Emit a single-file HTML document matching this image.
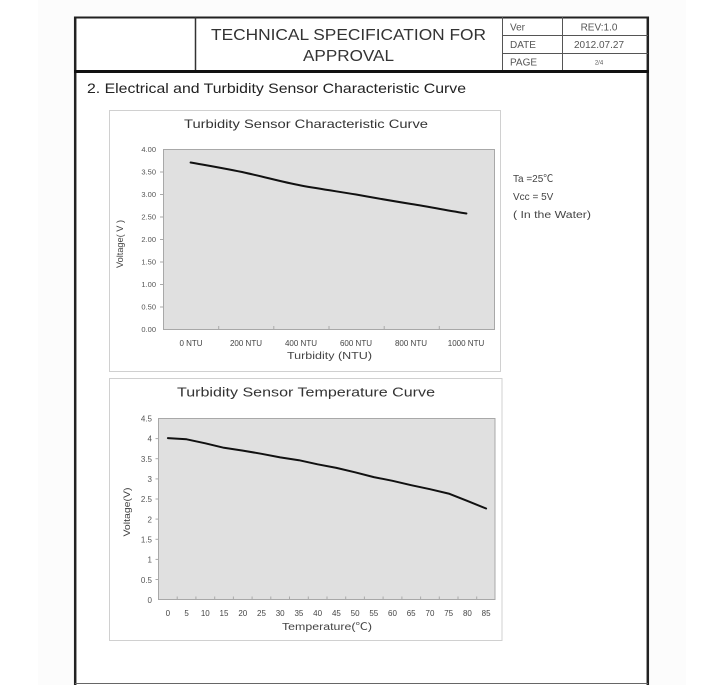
<!DOCTYPE html>
<html>
<head>
<meta charset="utf-8">
<style>
html,body{margin:0;padding:0;background:#fff;}
svg{display:block;}
text{font-family:"Liberation Sans","Noto Sans CJK SC",sans-serif;}
</style>
</head>
<body>
<svg width="724" height="685" viewBox="0 0 724 685" xmlns="http://www.w3.org/2000/svg">
  <rect x="0" y="0" width="724" height="685" fill="#ffffff"/>
  <rect x="38" y="0" width="648" height="685" fill="#fcfcfc"/>
  <rect x="75" y="17" width="573" height="668" fill="#ffffff"/>

  <!-- Header frame -->
  <line x1="74" y1="17.5" x2="649" y2="17.5" stroke="#222" stroke-width="2"/>
  <line x1="75.2" y1="16.5" x2="75.2" y2="685" stroke="#222" stroke-width="2.5"/>
  <line x1="647.8" y1="16.5" x2="647.8" y2="685" stroke="#222" stroke-width="2.5"/>
  <line x1="74" y1="71.5" x2="649" y2="71.5" stroke="#111" stroke-width="3"/>
  <line x1="195.5" y1="17" x2="195.5" y2="70" stroke="#333" stroke-width="1.5"/>
  <line x1="502.5" y1="17" x2="502.5" y2="70" stroke="#555" stroke-width="1"/>
  <line x1="562.5" y1="17" x2="562.5" y2="70" stroke="#555" stroke-width="1"/>
  <line x1="502" y1="35.5" x2="648" y2="35.5" stroke="#555" stroke-width="1"/>
  <line x1="502" y1="53.5" x2="648" y2="53.5" stroke="#555" stroke-width="1"/>
  <line x1="75" y1="683.5" x2="648" y2="683.5" stroke="#666" stroke-width="1"/>

  <text x="211" y="40" font-size="15.5" fill="#333" textLength="275" lengthAdjust="spacingAndGlyphs">TECHNICAL SPECIFICATION FOR</text>
  <text x="303" y="61" font-size="15.5" fill="#333" textLength="91" lengthAdjust="spacingAndGlyphs">APPROVAL</text>

  <text x="510" y="30.5" font-size="10" fill="#555">Ver</text>
  <text x="599" y="30.5" font-size="10" fill="#555" text-anchor="middle">REV:1.0</text>
  <text x="510" y="48" font-size="10" fill="#555">DATE</text>
  <text x="599" y="48" font-size="10" fill="#555" text-anchor="middle">2012.07.27</text>
  <text x="510" y="65.5" font-size="10" fill="#555">PAGE</text>
  <text x="599" y="64.5" font-size="6" fill="#555" text-anchor="middle">2/4</text>

  <text x="87" y="93" font-size="14" fill="#222" textLength="379" lengthAdjust="spacingAndGlyphs">2. Electrical and Turbidity Sensor Characteristic Curve</text>

  <!-- Chart 1 -->
  <rect x="109.5" y="110.5" width="391" height="261" fill="#fff" stroke="#d0d0d0" stroke-width="1"/>
  <text x="184" y="128" font-size="12" fill="#333" textLength="244" lengthAdjust="spacingAndGlyphs">Turbidity Sensor Characteristic Curve</text>
  <rect x="163.5" y="149.5" width="331" height="180" fill="#e0e0e0" stroke="#a8a8a8" stroke-width="1"/>
  <g font-size="7.5" fill="#555" text-anchor="end">
    <text x="156" y="152">4.00</text>
    <text x="156" y="174.5">3.50</text>
    <text x="156" y="197">3.00</text>
    <text x="156" y="219.5">2.50</text>
    <text x="156" y="242">2.00</text>
    <text x="156" y="264.5">1.50</text>
    <text x="156" y="287">1.00</text>
    <text x="156" y="309.5">0.50</text>
    <text x="156" y="332">0.00</text>
  </g>
  <g stroke="#aaa" stroke-width="1">
    <line x1="160" y1="172" x2="163" y2="172"/>
    <line x1="160" y1="194.5" x2="163" y2="194.5"/>
    <line x1="160" y1="217" x2="163" y2="217"/>
    <line x1="160" y1="239.5" x2="163" y2="239.5"/>
    <line x1="160" y1="262" x2="163" y2="262"/>
    <line x1="160" y1="284.5" x2="163" y2="284.5"/>
    <line x1="160" y1="307" x2="163" y2="307"/>
    <line x1="218.7" y1="326" x2="218.7" y2="329"/>
    <line x1="273.8" y1="326" x2="273.8" y2="329"/>
    <line x1="329" y1="326" x2="329" y2="329"/>
    <line x1="384.2" y1="326" x2="384.2" y2="329"/>
    <line x1="439.3" y1="326" x2="439.3" y2="329"/>
  </g>
  <g font-size="8" fill="#444" text-anchor="middle">
    <text x="191" y="346">0 NTU</text>
    <text x="246" y="346">200 NTU</text>
    <text x="301" y="346">400 NTU</text>
    <text x="356" y="346">600 NTU</text>
    <text x="411" y="346">800 NTU</text>
    <text x="466" y="346">1000 NTU</text>
  </g>
  <text x="329.5" y="359" font-size="10" fill="#444" text-anchor="middle" textLength="85" lengthAdjust="spacingAndGlyphs">Turbidity (NTU)</text>
  <text transform="translate(123,244) rotate(-90)" font-size="9.5" fill="#444" text-anchor="middle" textLength="48" lengthAdjust="spacingAndGlyphs">Voltage( V )</text>
  <path d="M190.6,162.5 C210,166 228,169 245.8,172.9 C265,177 282,182 300.9,185.5 C320,189 338,191.5 356.1,194.5 C375,198 393,201 411.3,204 C430,207 448,210.5 466.4,213.5" fill="none" stroke="#111" stroke-width="2" stroke-linecap="round"/>

  <!-- Side notes -->
  <g font-size="10" fill="#444">
    <text x="513" y="182">Ta =25℃</text>
    <text x="513" y="200">Vcc = 5V</text>
    <text x="513" y="218" textLength="78" lengthAdjust="spacingAndGlyphs">( In the Water)</text>
  </g>

  <!-- Chart 2 -->
  <rect x="109.5" y="378.5" width="392.5" height="262" fill="#fff" stroke="#d0d0d0" stroke-width="1"/>
  <text x="177" y="396.5" font-size="12.5" fill="#333" textLength="258" lengthAdjust="spacingAndGlyphs">Turbidity Sensor Temperature Curve</text>
  <rect x="158.5" y="418.5" width="336.5" height="181" fill="#e0e0e0" stroke="#a8a8a8" stroke-width="1"/>
  <g font-size="8" fill="#555" text-anchor="end">
    <text x="152" y="421.5">4.5</text>
    <text x="152" y="441.7">4</text>
    <text x="152" y="461.9">3.5</text>
    <text x="152" y="482">3</text>
    <text x="152" y="502.2">2.5</text>
    <text x="152" y="522.4">2</text>
    <text x="152" y="542.5">1.5</text>
    <text x="152" y="562.7">1</text>
    <text x="152" y="582.9">0.5</text>
    <text x="152" y="603">0</text>
  </g>
  <g stroke="#aaa" stroke-width="1">
    <line x1="155.5" y1="438.6" x2="158.5" y2="438.6"/>
    <line x1="155.5" y1="458.7" x2="158.5" y2="458.7"/>
    <line x1="155.5" y1="478.9" x2="158.5" y2="478.9"/>
    <line x1="155.5" y1="499" x2="158.5" y2="499"/>
    <line x1="155.5" y1="519.1" x2="158.5" y2="519.1"/>
    <line x1="155.5" y1="539.3" x2="158.5" y2="539.3"/>
    <line x1="155.5" y1="559.4" x2="158.5" y2="559.4"/>
    <line x1="155.5" y1="579.5" x2="158.5" y2="579.5"/>
    <line x1="177.2" y1="596.5" x2="177.2" y2="599.5"/>
    <line x1="195.9" y1="596.5" x2="195.9" y2="599.5"/>
    <line x1="214.7" y1="596.5" x2="214.7" y2="599.5"/>
    <line x1="233.4" y1="596.5" x2="233.4" y2="599.5"/>
    <line x1="252.1" y1="596.5" x2="252.1" y2="599.5"/>
    <line x1="270.8" y1="596.5" x2="270.8" y2="599.5"/>
    <line x1="289.5" y1="596.5" x2="289.5" y2="599.5"/>
    <line x1="308.3" y1="596.5" x2="308.3" y2="599.5"/>
    <line x1="327" y1="596.5" x2="327" y2="599.5"/>
    <line x1="345.7" y1="596.5" x2="345.7" y2="599.5"/>
    <line x1="364.4" y1="596.5" x2="364.4" y2="599.5"/>
    <line x1="383.1" y1="596.5" x2="383.1" y2="599.5"/>
    <line x1="401.9" y1="596.5" x2="401.9" y2="599.5"/>
    <line x1="420.6" y1="596.5" x2="420.6" y2="599.5"/>
    <line x1="439.3" y1="596.5" x2="439.3" y2="599.5"/>
    <line x1="458" y1="596.5" x2="458" y2="599.5"/>
    <line x1="476.7" y1="596.5" x2="476.7" y2="599.5"/>
  </g>
  <g font-size="8" fill="#444" text-anchor="middle">
    <text x="167.9" y="616">0</text>
    <text x="186.6" y="616">5</text>
    <text x="205.3" y="616">10</text>
    <text x="224" y="616">15</text>
    <text x="242.8" y="616">20</text>
    <text x="261.5" y="616">25</text>
    <text x="280.2" y="616">30</text>
    <text x="298.9" y="616">35</text>
    <text x="317.6" y="616">40</text>
    <text x="336.4" y="616">45</text>
    <text x="355.1" y="616">50</text>
    <text x="373.8" y="616">55</text>
    <text x="392.5" y="616">60</text>
    <text x="411.2" y="616">65</text>
    <text x="430" y="616">70</text>
    <text x="448.7" y="616">75</text>
    <text x="467.4" y="616">80</text>
    <text x="486.1" y="616">85</text>
  </g>
  <text x="327" y="630" font-size="10" fill="#444" text-anchor="middle" textLength="90" lengthAdjust="spacingAndGlyphs">Temperature(℃)</text>
  <text transform="translate(130,512) rotate(-90)" font-size="9.5" fill="#444" text-anchor="middle" textLength="49" lengthAdjust="spacingAndGlyphs">Voltage(V)</text>
  <polyline points="167.9,438.1 186.6,439.3 205.3,443.3 224,447.8 242.8,450.6 261.5,453.8 280.2,457.4 298.9,460.2 317.6,464.3 336.4,467.9 355.1,472.3 373.8,477.1 392.5,480.8 411.2,485.2 430,489.2 448.7,493.6 467.4,500.9 486.1,508.5" fill="none" stroke="#111" stroke-width="2" stroke-linejoin="round" stroke-linecap="round"/>
</svg>
</body>
</html>
